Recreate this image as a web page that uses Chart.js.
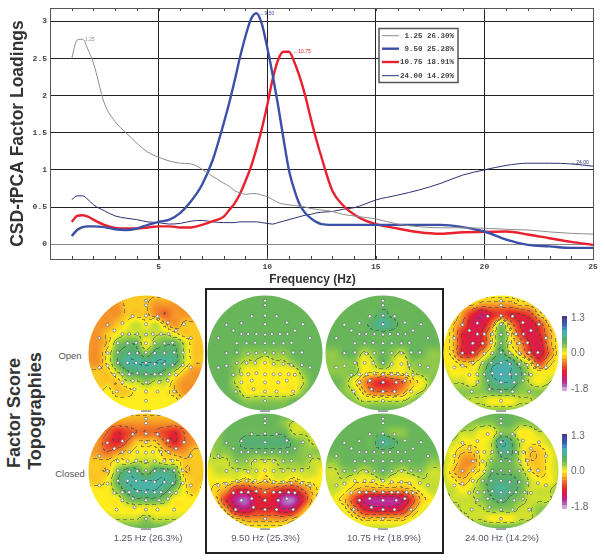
<!DOCTYPE html>
<html>
<head>
<meta charset="utf-8">
<title>CSD-fPCA</title>
<script src="https://cdn.jsdelivr.net/npm/chart.js@4"></script>
<style>
  body { margin: 0; background: #fff; font-family: "Liberation Sans", sans-serif; }
  #page { position: relative; width: 605px; height: 560px; overflow: hidden; }
  canvas { position: absolute; }
  .txt { position: absolute; white-space: nowrap; }
  .side { font-weight: bold; font-size: 18px; color: #333; transform: translate(-50%, -50%) rotate(-90deg); }
  .row { font-size: 9.5px; color: #555; transform: translate(-50%, -50%); }
  .cap { font-size: 9.5px; color: #556; transform: translate(-50%, -50%); }
  .axis { font-weight: bold; font-size: 12px; color: #333; transform: translate(-50%, -50%); }
  #box { position: absolute; left: 205px; top: 288px; width: 235px; height: 262px; border: 2px solid #222; }
  canvas.scalp { filter: blur(0.45px); }
</style>
</head>
<body>
<div id="page">
  <canvas id="loadings" width="605" height="290" style="left:0;top:0"></canvas>
  <div class="txt axis" style="left:312.5px;top:279px">Frequency (Hz)</div>
  <div id="box"></div>
  <div class="txt side" style="left:14px;top:413px">Factor Score</div>
  <div class="txt side" style="left:35px;top:411px">Topographies</div>
  <div class="txt row" style="left:70px;top:355px">Open</div>
  <div class="txt row" style="left:70px;top:473px">Closed</div>
</div>

<script>
// Line chart values
const freqs = [1,1.25,1.5,1.75,2,2.5,3,3.5,4,4.5,5,5.5,6,6.5,7,7.5,8,8.25,8.5,8.75,9,9.25,9.5,9.75,10,10.25,10.5,10.75,11,11.25,11.5,11.75,12,12.25,12.5,13,13.5,14,14.5,15,16,17,18,19,20,21,22,23,24,25];
const load125 = [2.5,2.75,2.76,2.62,2.44,1.9,1.65,1.5,1.36,1.24,1.17,1.12,1.09,1.08,1.01,0.91,0.82,0.78,0.72,0.69,0.67,0.68,0.68,0.66,0.64,0.6,0.56,0.54,0.53,0.52,0.51,0.5,0.48,0.47,0.46,0.44,0.4,0.38,0.36,0.34,0.27,0.235,0.22,0.22,0.215,0.2,0.19,0.165,0.145,0.135];
const load950 = [0.11,0.19,0.23,0.24,0.24,0.23,0.2,0.19,0.21,0.26,0.3,0.33,0.42,0.58,0.8,1.14,1.63,1.9,2.2,2.52,2.8,3.03,3.11,2.97,2.65,2.28,1.87,1.42,1.0,0.73,0.53,0.42,0.35,0.3,0.27,0.26,0.26,0.26,0.26,0.26,0.26,0.26,0.26,0.23,0.17,0.06,-0.01,-0.03,-0.05,-0.05];
const load1075 = [0.3,0.38,0.39,0.37,0.33,0.26,0.22,0.21,0.21,0.225,0.24,0.24,0.225,0.225,0.26,0.31,0.37,0.46,0.55,0.68,0.85,1.04,1.28,1.55,1.87,2.22,2.48,2.59,2.59,2.45,2.25,2.0,1.7,1.42,1.17,0.72,0.52,0.4,0.32,0.27,0.21,0.16,0.14,0.16,0.165,0.17,0.13,0.08,0.03,-0.01];
const load2400 = [0.6,0.65,0.65,0.6,0.53,0.45,0.38,0.35,0.33,0.3,0.29,0.27,0.28,0.31,0.32,0.3,0.29,0.29,0.29,0.3,0.3,0.3,0.3,0.29,0.28,0.27,0.29,0.31,0.33,0.35,0.37,0.39,0.4,0.42,0.43,0.44,0.47,0.49,0.54,0.595,0.66,0.73,0.82,0.93,1.0,1.06,1.09,1.09,1.08,1.05];
const yTicks = [0,0.5,1,1.5,2,2.5,3];
const legendLabels = ['1.25 26.30%','9.50 25.28%','10.75 18.91%','24.00 14.20%'];
const peakLabels = ['1.25','\u21909.50','\u219010.75','\u219024.00'];
const peakHz = [1.6,9.65,11.2,24];
const peakVal = [2.76,3.11,2.59,1.1];

// Electrode positions on the head, same montage on each map
const eegX = [0,0,-0.23,0,0.2,-0.67,-0.41,0,0.38,0.66,-0.55,-0.41,-0.29,-0.15,0,0.12,0.26,0.39,0.52,-0.81,0.78,-0.49,-0.32,-0.17,0,0.15,0.32,0.46,-0.67,-0.49,-0.29,-0.15,0,0.15,0.32,0.49,0.64,-0.67,-0.49,-0.32,-0.17,0,0.15,0.32,0.46,0.64,-0.81,0.78,-0.55,-0.41,-0.29,-0.15,0,0.15,0.26,0.41,0.52,-0.41,-0.23,0,0.23,0.38,-0.51,-0.2,0,0.2,0.49,0];
const eegY = [0.91,0.83,0.64,0.65,0.64,0.49,0.52,0.5,0.53,0.5,0.39,0.33,0.33,0.33,0.32,0.33,0.33,0.33,0.39,0.26,0.26,0.17,0.17,0.18,0.17,0.17,0.17,0.18,0,0.01,-0.01,0,0.01,0,0,0.01,0.01,-0.22,-0.17,-0.17,-0.17,-0.17,-0.19,-0.19,-0.21,-0.21,-0.25,-0.25,-0.38,-0.37,-0.37,-0.35,-0.37,-0.37,-0.37,-0.37,-0.38,-0.51,-0.48,-0.51,-0.51,-0.48,-0.67,-0.63,-0.67,-0.67,-0.67,-0.83];

// Factor scores, 13 x 13, top row first, from -10 to 10
const open125 = [
  [-1,-1,-1,-1,-1,-1,-1,-1,-1,-1,-1,-1,-1],
  [-2,-2,-2,-2,-1,-1,-1,-2,-2,-2,-2,-2,-2],
  [-2,-2,-2,-2,-1,-1,-1,-2,-3,-2,-2,-2,-2],
  [-2,-2,-2,-1,0,1,0,1,-1,-2,-1,-1,-1],
  [-2,-2,-1,0,1,1,1,1,1,0,-1,-1,-1],
  [-2,-2,-1,2,3,3,0,2,3,3,1,-1,-1],
  [-2,-2,0,3,4,4,2,4,4,4,1,-1,-1],
  [-2,-2,0,3,5,5,5,5,5,4,1,-1,-1],
  [-1,-1,-1,1,3,4,4,4,3,1,-1,-2,-2],
  [-1,-1,-1,-1,1,1,2,1,1,-1,-2,-2,-2],
  [-1,-1,0,-1,-1,0,0,0,0,-1,-2,-2,-1],
  [0,0,0,0,0,0,0,0,0,0,-1,-1,-1],
  [0,0,0,0,0,0,0,0,0,0,0,0,0]
];
const closed125 = [
  [-1,-1,-1,-1,-1,-1,-1,-1,-1,-1,-1,-1,-1],
  [-2,-2,-2,-2,-2,-2,-2,-2,-2,-2,-2,-2,-2],
  [-2,-2,-3,-5,-4,-3,-3,-3,-4,-5,-3,-2,-2],
  [-2,-2,-4,-5,-3,-1,-1,-1,-3,-5,-3,-2,-2],
  [-2,-2,-3,-2,-1,0,0,0,-1,-2,-2,-1,-1],
  [-1,-1,-1,0,0,1,1,1,0,0,-1,-1,-1],
  [-1,-1,-1,2,4,4,2,4,4,3,-1,-1,-1],
  [-1,-1,0,3,5,5,5,5,5,4,0,-1,-1],
  [0,0,0,2,4,5,5,5,4,2,0,-1,0],
  [0,0,0,0,2,3,3,3,2,0,0,0,0],
  [0,0,0,0,0,0,0,0,0,0,0,0,0],
  [1,1,1,1,1,1,2,1,1,1,1,1,1],
  [2,2,2,3,3,3,3,3,3,3,2,2,2]
];
const open950 = [
  [3,3,3,3,3,3,3,3,3,3,3,3,3],
  [3,3,3,3,3,3,3,3,3,3,3,3,3],
  [3,3,3,3,3,3,3,3,3,3,3,3,3],
  [3,3,3,3,3,3,3,3,3,3,3,3,3],
  [3,3,3,3,3,3,3,3,3,3,3,3,3],
  [3,3,3,3,3,3,3,3,3,3,3,3,3],
  [3,3,3,3,2,2,2,2,2,3,3,3,3],
  [3,3,3,2,1,1,0,1,1,2,3,3,3],
  [3,3,3,2,0,0,0,0,0,0,2,3,3],
  [3,3,3,1,0,0,0,0,0,0,1,3,3],
  [3,3,3,2,0,0,0,0,0,0,2,3,3],
  [3,3,3,3,2,2,2,2,2,3,3,3,3],
  [3,3,3,3,3,3,3,3,3,3,3,3,3]
];
const closed950 = [
  [3,3,3,3,3,3,3,3,3,3,3,3,3],
  [3,3,3,3,3,3,3,3,2,1,1,2,3],
  [2,2,3,3,3,3,3,3,3,1,1,1,1],
  [2,2,3,3,4,4,4,4,4,3,2,1,1],
  [1,2,2,3,3,3,3,3,3,3,2,2,2],
  [1,1,1,2,2,1,1,1,2,2,2,1,1],
  [0,1,1,1,1,1,0,1,1,1,1,1,0],
  [0,0,0,0,-1,0,-1,0,0,-1,0,0,0],
  [0,-1,-2,-5,-5,-4,-3,-4,-5,-5,-3,-1,0],
  [0,-1,-5,-8,-9,-6,-5,-6,-9,-9,-5,-1,0],
  [0,0,-2,-6,-7,-5,-5,-5,-7,-6,-2,0,0],
  [0,0,0,-1,-2,-2,-2,-2,-2,-1,0,0,0],
  [1,1,1,1,0,0,0,0,0,1,1,1,1]
];
const open1075 = [
  [3,3,3,3,3,3,3,3,3,3,3,3,3],
  [3,3,3,3,3,3,3,3,3,3,3,3,3],
  [3,3,3,3,3,3,4,3,3,3,3,3,3],
  [3,3,3,3,3,4,5,4,3,3,3,3,3],
  [3,3,3,3,3,3,3,3,3,3,3,3,3],
  [3,3,3,3,3,3,3,3,3,3,3,3,3],
  [2,2,3,3,1,2,3,2,1,3,3,2,2],
  [2,2,2,2,0,1,3,1,0,2,2,2,2],
  [2,2,2,2,0,0,0,0,0,1,2,2,2],
  [3,3,2,0,-2,-4,-5,-4,-3,-1,0,2,3],
  [3,3,2,1,-1,-3,-3,-3,-2,0,1,2,3],
  [3,3,3,2,1,1,1,1,1,2,3,3,3],
  [3,3,3,3,3,3,3,3,3,3,3,3,3]
];
const closed1075 = [
  [3,3,3,3,3,3,3,3,3,3,3,3,3],
  [3,3,3,3,3,3,3,3,3,3,3,3,3],
  [3,3,3,3,3,3,3,2,2,3,3,3,3],
  [3,3,3,3,3,3,5,4,3,3,3,3,3],
  [3,3,3,3,3,3,3,3,3,3,3,3,3],
  [2,2,3,3,3,3,3,3,3,3,3,2,2],
  [1,1,2,2,1,2,3,2,1,2,2,1,1],
  [1,1,1,0,0,0,1,0,0,0,1,1,1],
  [1,1,0,-1,-2,-2,-2,-2,-2,-1,0,1,1],
  [1,0,-1,-4,-7,-8,-8,-8,-7,-4,-1,0,1],
  [1,1,0,-2,-5,-6,-6,-6,-5,-2,0,1,1],
  [2,2,1,0,-1,-1,-1,-1,-1,0,1,2,2],
  [2,3,3,2,1,1,1,1,1,2,3,3,2]
];
const open2400 = [
  [0,0,0,0,0,0,0,0,0,0,0,0,0],
  [0,0,-1,-1,-2,-2,-2,-2,-1,-1,0,0,0],
  [0,0,-2,-5,-7,-5,-4,-5,-5,-4,-1,0,0],
  [0,-1,-3,-6,-6,-3,2,-2,-5,-6,-4,-1,0],
  [0,-1,-5,-6,-5,-1,3,0,-4,-6,-5,-2,0],
  [0,-1,-5,-6,-5,-1,3,0,-2,-5,-6,-2,0],
  [0,-1,-5,-5,-2,1,4,1,-1,-4,-6,-3,0],
  [0,0,-1,-1,1,4,5,5,2,0,-4,-1,0],
  [1,0,0,0,2,5,6,5,4,1,0,0,0],
  [2,1,1,0,2,4,5,5,3,1,0,1,2],
  [2,2,2,2,2,3,3,3,2,2,2,2,2],
  [2,2,2,1,1,0,0,0,1,1,2,2,2],
  [2,2,2,2,2,2,2,2,2,2,2,2,2]
];
const closed2400 = [
  [3,3,3,3,3,3,3,3,3,3,3,3,3],
  [3,3,3,2,2,2,3,3,2,2,3,3,3],
  [2,2,1,1,0,0,2,2,0,0,1,1,2],
  [1,1,0,0,0,1,5,4,1,0,0,1,1],
  [1,0,-1,-1,0,1,4,4,1,-1,-1,0,1],
  [1,0,-2,-2,0,2,3,3,1,-1,-1,0,1],
  [1,-1,-2,-1,0,3,3,3,2,0,-1,0,1],
  [1,0,-1,0,2,4,4,4,3,1,0,0,1],
  [1,1,0,1,2,4,5,4,3,1,1,1,2],
  [2,1,1,1,2,3,4,3,2,1,1,1,2],
  [2,2,1,1,1,2,2,2,1,1,2,2,2],
  [2,2,2,1,1,0,0,0,1,1,2,2,2],
  [3,3,3,3,3,3,3,3,3,3,3,3,3]
];
const mapCaptions = ['1.25 Hz (26.3%)','9.50 Hz (25.3%)','10.75 Hz (18.9%)','24.00 Hz (14.2%)'];
const openMaps = [open125,open950,open1075,open2400];
const closedMaps = [closed125,closed950,closed1075,closed2400];
const contourLevels = [-7,-5,-3,-1.2,-0.4,1.2,3.4,5];

// Colour scale
const barLevels = [10,9,8,7,6,5,4,3,2,1,0,-1,-2,-3,-4,-5,-6,-7,-8,-9,-10];
const barLabels = ['1.3','','','','','','','','','','0.0','','','','','','','','','','-1.8'];
const scaleStops = [
  [-10,205,165,215],[-9,175,95,190],[-8,190,40,150],[-6.5,215,25,85],[-5,228,35,45],[-3.5,238,85,40],
  [-2,245,150,40],[-1,250,200,35],[0,255,238,30],[1,200,222,50],[2,140,200,75],[3,105,182,90],[4,85,175,115],
  [5,75,180,155],[6,70,175,185],[7,65,140,195],[8,60,95,175],[10,70,60,140]
];

function scaleColor(v) {
  if (v <= scaleStops[0][0]) return scaleStops[0].slice(1);
  for (let i = 1; i < scaleStops.length; i++) {
    const a = scaleStops[i - 1], b = scaleStops[i];
    if (v <= b[0]) {
      const t = (v - a[0]) / (b[0] - a[0]);
      return [a[1] + (b[1] - a[1]) * t, a[2] + (b[2] - a[2]) * t, a[3] + (b[3] - a[3]) * t];
    }
  }
  return scaleStops[scaleStops.length - 1].slice(1);
}

// Top chart: minor ticks, frame, peak labels and the legend box
const loadingsDecor = {
  id: 'loadingsDecor',
  afterDatasetsDraw(chart) {
    const c = chart.ctx, a = chart.chartArea, x = chart.scales.x, y = chart.scales.y;
    c.save();
    c.strokeStyle = '#444';
    c.lineWidth = 1;
    c.beginPath();
    for (let i = 1; i < 25; i++) {
      const px = Math.round(x.getPixelForValue(i)) + 0.5;
      c.moveTo(px, a.top); c.lineTo(px, a.top + 3);
      c.moveTo(px, a.bottom); c.lineTo(px, a.bottom - 3);
    }
    c.stroke();
    c.strokeStyle = '#555';
    c.strokeRect(a.left + 0.5, a.top + 0.5, a.right - a.left, a.bottom - a.top);

    c.font = '5px "Liberation Sans"';
    c.textBaseline = 'middle';
    peakLabels.forEach((t, i) => {
      c.fillStyle = chart.data.datasets[i].borderColor;
      c.fillText(t, x.getPixelForValue(peakHz[i]), y.getPixelForValue(peakVal[i]));
    });

    // legend
    c.fillStyle = '#fff';
    c.fillRect(379, 28.5, 79, 54);
    c.strokeStyle = '#555';
    c.lineWidth = 1.5;
    c.strokeRect(379, 28.5, 79, 54);
    c.font = 'bold 7.5px "Liberation Mono"';
    c.textAlign = 'right';
    const rows = [35.7, 48.7, 62, 75.7];
    legendLabels.forEach((t, i) => {
      const ds = chart.data.datasets[i];
      c.strokeStyle = ds.borderColor;
      c.lineWidth = ds.borderWidth;
      c.beginPath();
      c.moveTo(382, rows[i]); c.lineTo(399, rows[i]);
      c.stroke();
      c.fillStyle = '#444';
      c.fillText(t, 454, rows[i]);
    });
    c.restore();
  }
};

const seriesData = s => freqs.map((f, i) => ({ x: f, y: s[i] }));

new Chart(document.getElementById('loadings'), {
  type: 'line',
  data: {
    datasets: [
      { label: '1.25', data: seriesData(load125), borderColor: '#8c8c8c', borderWidth: 1 },
      { label: '9.50', data: seriesData(load950), borderColor: '#3b50a6', borderWidth: 2.4 },
      { label: '10.75', data: seriesData(load1075), borderColor: '#e9202d', borderWidth: 2.4 },
      { label: '24.00', data: seriesData(load2400), borderColor: '#2b3070', borderWidth: 1 }
    ]
  },
  plugins: [loadingsDecor],
  options: {
    responsive: false,
    animation: false,
    devicePixelRatio: 1,
    layout: { padding: { top: 8, right: 12 } },
    elements: { point: { radius: 0 }, line: { cubicInterpolationMode: 'monotone' } },
    plugins: { legend: { display: false }, tooltip: { enabled: false } },
    scales: {
      x: {
        type: 'linear', min: 0, max: 25,
        afterFit(s) { s.height = 31; },
        grid: { color: '#222', lineWidth: 1, drawTicks: false },
        border: { color: '#555' },
        ticks: { stepSize: 5, padding: 3, color: '#444', font: { family: 'Liberation Mono', size: 8, weight: 'bold' }, maxRotation: 0,
          callback: v => (v === 0 ? '' : v) }
      },
      y: {
        min: -0.2, max: 3.18,
        afterFit(s) { s.width = 50; },
        afterBuildTicks(s) { s.ticks = yTicks.map(v => ({ value: v })); },
        grid: { color: ctx => (ctx.tick && ctx.tick.value === 0 ? '#888' : '#222'), lineWidth: 1, drawTicks: false },
        border: { color: '#555' },
        ticks: { padding: 3, color: '#444', font: { family: 'Liberation Mono', size: 8, weight: 'bold' }, callback: v => String(v) },
        title: { display: true, text: 'CSD-fPCA Factor Loadings', color: '#333', padding: { top: 8, bottom: 0 }, font: { family: 'Liberation Sans', size: 17.5, weight: 'bold' } }
      }
    }
  }
});

// Paints the scalp from the "scores" dataset, through the chart's scales
const scalpPlugin = {
  id: 'scalp',
  beforeDatasetsDraw(chart) {
    const xs = chart.scales.x, ys = chart.scales.y, a = chart.chartArea;
    const cells = chart.data.datasets[0].data;
    const n = Math.sqrt(cells.length);
    const cell = (i, j) => cells[Math.min(n - 1, Math.max(0, j)) * n + Math.min(n - 1, Math.max(0, i))].v;
    const cr = (p0, p1, p2, p3, t) => p1 + 0.5 * t * (p2 - p0 + t * (2 * p0 - 5 * p1 + 4 * p2 - p3 + t * (3 * (p1 - p2) + p3 - p0)));
    const field = (vx, vy) => {
      const gx = (vx + 1) * (n - 1) / 2, gy = (1 - vy) * (n - 1) / 2;
      const i = Math.floor(gx), j = Math.floor(gy), tx = gx - i, ty = gy - j;
      const r = [];
      for (let k = -1; k < 3; k++) r.push(cr(cell(i - 1, j + k), cell(i, j + k), cell(i + 1, j + k), cell(i + 2, j + k), tx));
      return cr(r[0], r[1], r[2], r[3], ty);
    };
    const w = Math.ceil(a.right - a.left), h = Math.ceil(a.bottom - a.top);
    const f = new Float32Array(w * h);
    for (let py = 0; py < h; py++) {
      for (let px = 0; px < w; px++) {
        f[py * w + px] = field(xs.getValueForPixel(a.left + px + 0.5), ys.getValueForPixel(a.top + py + 0.5));
      }
    }
    const off = document.createElement('canvas');
    off.width = w; off.height = h;
    const oc = off.getContext('2d');
    const img = oc.createImageData(w, h);
    for (let py = 0; py < h; py++) {
      for (let px = 0; px < w; px++) {
        const k = py * w + px, v = f[k];
        let col = scaleColor(v);
        const vr = px + 1 < w ? f[k + 1] : v, vd = py + 1 < h ? f[k + w] : v;
        const hit = contourLevels.some(l => (v - l) * (vr - l) < 0 || (v - l) * (vd - l) < 0);
        if (hit && (px + py) % 7 < 4) col = col.map((c, i) => c * 0.45 + [55, 70, 85][i] * 0.55);
        img.data[k * 4] = col[0]; img.data[k * 4 + 1] = col[1]; img.data[k * 4 + 2] = col[2]; img.data[k * 4 + 3] = 255;
      }
    }
    oc.putImageData(img, 0, 0);
    const c = chart.ctx;
    c.save();
    c.beginPath();
    c.arc(xs.getPixelForValue(0), ys.getPixelForValue(0), xs.getPixelForValue(1) - xs.getPixelForValue(0), 0, Math.PI * 2);
    c.clip();
    c.drawImage(off, a.left, a.top);
    c.restore();
  }
};

function scalpChart(grid, cx, cy) {
  const cv = document.createElement('canvas');
  cv.className = 'scalp';
  cv.width = 122; cv.height = 122;
  cv.style.left = (cx - 61) + 'px';
  cv.style.top = (cy - 61) + 'px';
  document.getElementById('page').appendChild(cv);
  const n = grid.length, scores = [];
  grid.forEach((row, j) => row.forEach((v, i) => scores.push({ x: i * 2 / (n - 1) - 1, y: 1 - j * 2 / (n - 1), v: v })));
  new Chart(cv, {
    type: 'scatter',
    data: {
      datasets: [
        { label: 'scores', data: scores, pointRadius: 0 },
        { label: 'electrodes', data: eegX.map((x, i) => ({ x: x, y: eegY[i] })), pointRadius: 1.5, pointBackgroundColor: '#fff', pointBorderColor: '#3c4650', pointBorderWidth: 0.5 },
        { label: 'rim', data: [{ x: 0, y: -1.01 }], pointStyle: 'line', pointRadius: 5, pointBorderColor: '#8a8f98', pointBorderWidth: 1.5 }
      ]
    },
    plugins: [scalpPlugin],
    options: {
      responsive: false, animation: false, devicePixelRatio: 1,
      layout: { padding: 0, autoPadding: false },
      plugins: { legend: { display: false }, tooltip: { enabled: false } },
      scales: {
        x: { type: 'linear', display: false, min: -1.06, max: 1.06 },
        y: { type: 'linear', display: false, min: -1.06, max: 1.06 }
      }
    }
  });
}

const colX = [146, 265, 382.5, 501];
const captionX = [148, 265.5, 384, 502];
const rowY = [352.5, 471];
colX.forEach((x, i) => {
  scalpChart(openMaps[i], x, rowY[0]);
  scalpChart(closedMaps[i], x, rowY[1]);
  const d = document.createElement('div');
  d.className = 'txt cap';
  d.style.left = captionX[i] + 'px';
  d.style.top = '537px';
  d.textContent = mapCaptions[i];
  document.getElementById('page').appendChild(d);
});

// Colour bars next to the last column
function colorBar(top) {
  const cv = document.createElement('canvas');
  cv.width = 50; cv.height = 95;
  cv.style.left = '555px';
  cv.style.top = top + 'px';
  document.getElementById('page').appendChild(cv);
  new Chart(cv, {
    type: 'bar',
    data: { labels: barLabels, datasets: [{ data: barLevels.map(() => 1), barPercentage: 1, categoryPercentage: 1,
      backgroundColor: barLevels.map(v => { const c = scaleColor(v); return 'rgb(' + c.join(',') + ')'; }) }] },
    options: {
      indexAxis: 'y', responsive: false, animation: false, devicePixelRatio: 1,
      layout: { padding: { left: 7, top: 7, bottom: 7 } },
      plugins: { legend: { display: false }, tooltip: { enabled: false } },
      scales: {
        x: { display: false, min: 0, max: 1 },
        y: { position: 'right', afterFit(s) { s.width = 38; }, grid: { display: false, drawTicks: false }, border: { display: false },
          ticks: { autoSkip: false, padding: 4, color: '#666', font: { family: 'Liberation Sans', size: 10 } } }
      }
    }
  });
}
colorBar(306);
colorBar(424);
</script>
</body>
</html>
